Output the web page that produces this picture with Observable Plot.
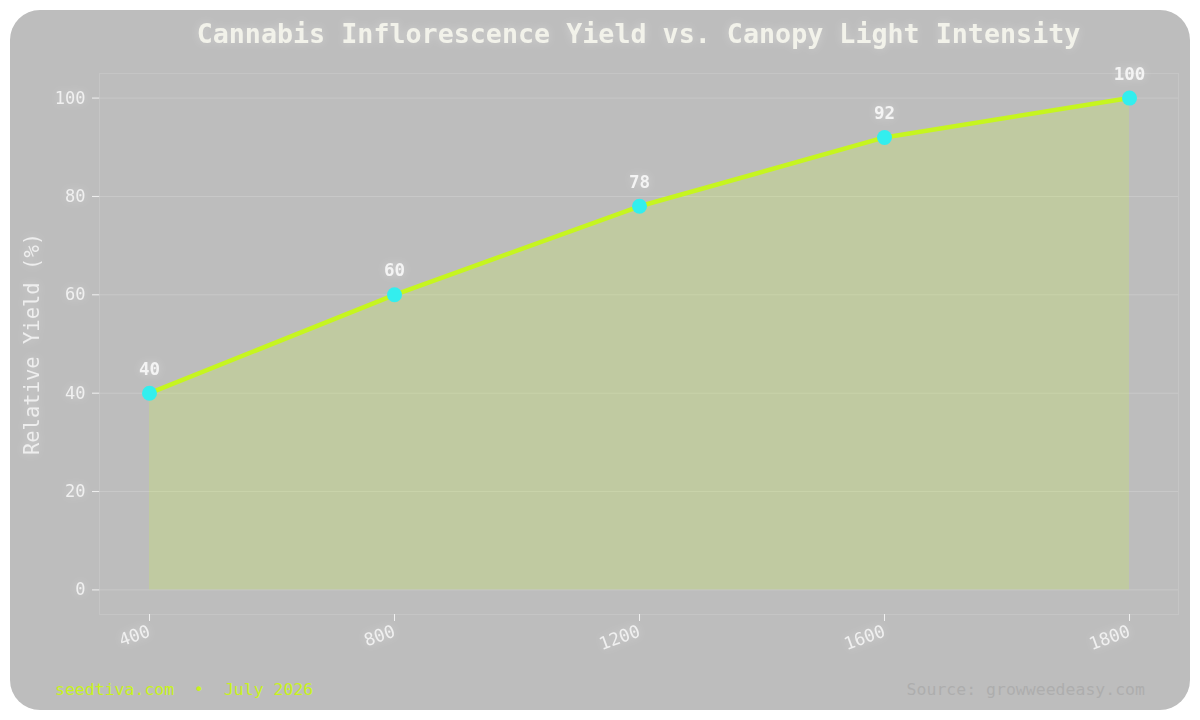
<!DOCTYPE html>
<html>
<head>
<meta charset="utf-8">
<script src="https://cdn.jsdelivr.net/npm/d3@7"></script>
<script src="https://cdn.jsdelivr.net/npm/@observablehq/plot@0.6"></script>
<style>
  html, body { margin: 0; padding: 0; background: #ffffff; width: 1200px; height: 720px; overflow: hidden; }
  #card { position: absolute; left: 10px; top: 10px; width: 1180px; height: 700px; background: #bdbdbd; border-radius: 30px; }
  #chart { position: absolute; left: 0; top: 0; }
  .title { position: absolute; left: 0; width: 1277px; top: 18px; text-align: center; font-family: "DejaVu Sans Mono", monospace; font-weight: bold; font-size: 26.7px; color: #f2f2ea; text-shadow: 0 0 10px rgba(255,255,255,0.35); }
  .foot-left { position: absolute; left: 55px; top: 680px; font-family: "DejaVu Sans Mono", monospace; font-size: 16.5px; color: #c8f21c; white-space: pre; }
  .foot-right { position: absolute; right: 55px; top: 680px; font-family: "DejaVu Sans Mono", monospace; font-size: 16.5px; color: #adadad; white-space: pre; }
  svg text { font-family: "DejaVu Sans Mono", monospace; }
  .glow { filter: drop-shadow(0 0 5px rgba(255,255,255,0.35)); }
</style>
</head>
<body>
<div id="card"></div>
<div id="chart"></div>
<div class="title">Cannabis Inflorescence Yield vs. Canopy Light Intensity</div>
<div class="foot-left">seedtiva.com  •  July 2026</div>
<div class="foot-right">Source: growweedeasy.com</div>
<script>
const intensity = ["400", "800", "1200", "1600", "1800"];
const yieldPct = [40, 60, 78, 92, 100];
const yTicks = [0, 20, 40, 60, 80, 100];

const data = intensity.map((x, i) => ({x, y: yieldPct[i]}));

const chart = Plot.plot({
  width: 1200,
  height: 720,
  marginLeft: 99,
  marginRight: 22,
  marginTop: 73,
  marginBottom: 106,
  style: {background: "transparent", color: "#f0f0f0", fontSize: "17px", fontFamily: "DejaVu Sans Mono, monospace"},
  x: {type: "point", domain: intensity, padding: 0.2, label: null},
  y: {domain: [-5, 105], label: null},
  marks: [
    Plot.frame({stroke: "#ffffff", strokeOpacity: 0.12}),
    Plot.gridY(yTicks, {stroke: "#ffffff", strokeOpacity: 0.18}),
    Plot.axisY(yTicks, {tickSize: 7, tickPadding: 7, stroke: "#f0f0f0", fill: "#f0f0f0", fontSize: 17, className: "glow", label: null}),
    Plot.text(["Relative Yield (%)"], {frameAnchor: "left", textAnchor: "middle", dx: -67, rotate: -90, fontSize: 20.5, fill: "#eeeeee", className: "glow"}),
    Plot.axisX({tickSize: 7, tickPadding: 9, tickRotate: -20, stroke: "#f0f0f0", fill: "#f0f0f0", fontSize: 17.5, className: "glow", label: null}),
    Plot.areaY(data, {x: "x", y1: 0, y2: "y", fill: "#ccff33", fillOpacity: 0.2}),
    Plot.lineY(data, {x: "x", y: "y", stroke: "#c6f51f", strokeWidth: 4.5}),
    Plot.dot(data, {x: "x", y: "y", r: 7.5, fill: "#33eeee", stroke: "none"}),
    Plot.text(data, {x: "x", y: "y", text: d => String(d.y), dy: -24, fontSize: 17.5, fontWeight: "bold", fill: "#f4f4f4", className: "glow"})
  ]
});
document.getElementById("chart").appendChild(chart);
</script>
</body>
</html>
